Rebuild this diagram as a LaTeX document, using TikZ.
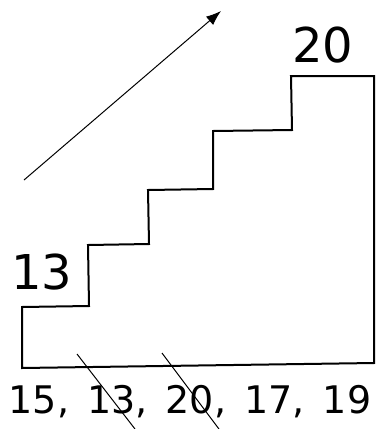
\documentclass[tikz,border=0pt]{standalone}
\usepackage{fontspec}
\setmainfont{DejaVu Sans}
\newfontfamily\lab[WordSpace=1.5]{DejaVu Sans}
\usetikzlibrary{arrows.meta}
\begin{document}
\begin{tikzpicture}[x=1pt,y=-1pt,
  stair/.style={line width=2pt, line join=miter},
  thin/.style={line width=1pt},
  numlab/.style={inner sep=0pt, anchor=base}]
\useasboundingbox (0,0) rectangle (379,429);
% staircase
\coordinate (p0) at (22,368);
\coordinate (p13) at (376,363);
\draw[stair] (p0) -- (22,307) -- (89,306) -- (88,245) -- (149,244) -- (148,190)
  -- (213,189) -- (213,131) -- (292,130) -- (291,76) -- (374,76) -- (374,363) -- cycle;
% arrow
\coordinate (a1) at (24,180);
\coordinate (a2) at (221,11);
\draw[thin,-{Latex[length=15pt,width=11pt]}] (a1) -- (a2);
% labels
\node[numlab, font=\fontsize{48}{48}\selectfont] (t20) at (323,62) {20};
\node[numlab, font=\fontsize{48}{48}\selectfont] (t13) at (42,289) {13};
\node[numlab, font=\lab\fontsize{38}{38}\selectfont] (seq) at (190,413) {15, 13, 20, 17, 19};
% strike-outs
\coordinate (s1a) at (77,354);
\coordinate (s1b) at (135,429);
\coordinate (s2a) at (162,353);
\coordinate (s2b) at (219,429);
\draw[thin] (s1a) -- (s1b);
\draw[thin] (s2a) -- (s2b);
\end{tikzpicture}
\end{document}
